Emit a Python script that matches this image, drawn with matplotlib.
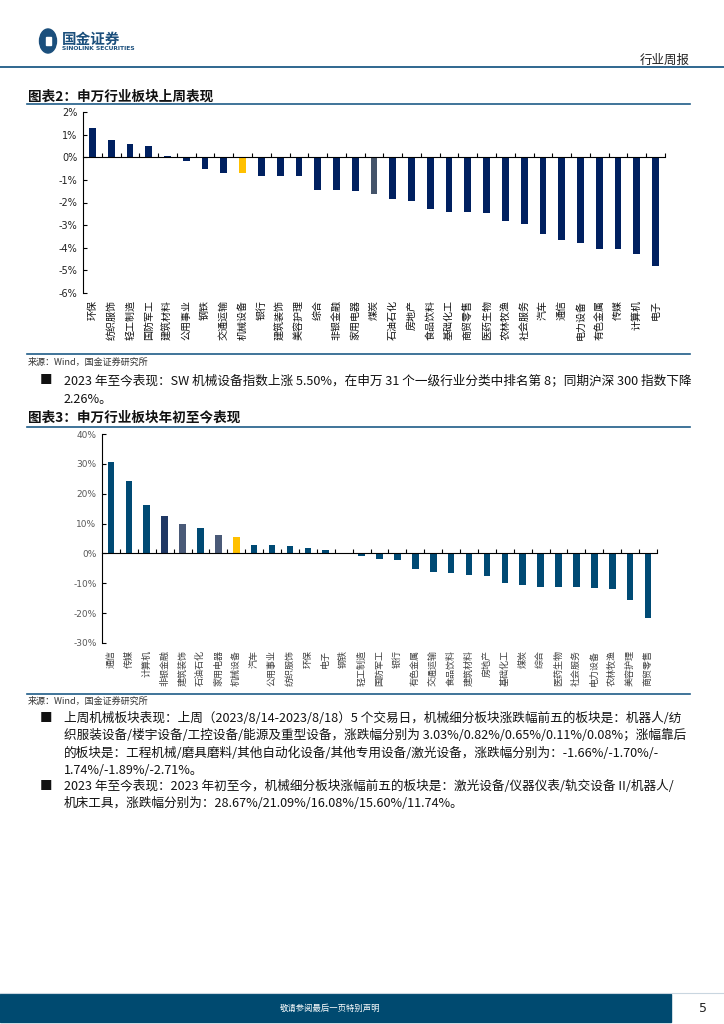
import matplotlib
matplotlib.use("Agg")
import matplotlib.pyplot as plt
from matplotlib.lines import Line2D
from matplotlib.patches import Rectangle, Circle
import matplotlib.transforms as mtransforms

plt.rcParams['font.family'] = ['Noto Sans CJK SC', 'DejaVu Sans']

W, H = 724, 1024

# 图表2: 申万行业板块上周表现 (%)
week_names = ["环保", "纺织服饰", "轻工制造", "国防军工", "建筑材料", "公用事业", "钢铁",
              "交通运输", "机械设备", "银行", "建筑装饰", "美容护理", "综合", "非银金融",
              "家用电器", "煤炭", "石油石化", "房地产", "食品饮料", "基础化工", "商贸零售",
              "医药生物", "农林牧渔", "社会服务", "汽车", "通信", "电力设备", "有色金属",
              "传媒", "计算机", "电子"]
week_vals = [1.30, 0.75, 0.59, 0.50, 0.06, -0.15, -0.52, -0.71, -0.71, -0.83, -0.83,
             -0.83, -1.45, -1.45, -1.49, -1.64, -1.85, -1.92, -2.29, -2.41, -2.41,
             -2.47, -2.81, -2.94, -3.39, -3.67, -3.79, -4.07, -4.07, -4.28, -4.79]
week_ticks = [2, 1, 0, -1, -2, -3, -4, -5, -6]

# 图表3: 申万行业板块年初至今表现 (%)
ytd_names = ["通信", "传媒", "计算机", "非银金融", "建筑装饰", "石油石化", "家用电器",
             "机械设备", "汽车", "公用事业", "纺织服饰", "环保", "电子", "钢铁", "轻工制造",
             "国防军工", "银行", "有色金属", "交通运输", "食品饮料", "建筑材料", "房地产",
             "基础化工", "煤炭", "综合", "医药生物", "社会服务", "电力设备", "农林牧渔",
             "美容护理", "商贸零售"]
ytd_vals = [30.7, 24.3, 16.1, 12.4, 9.9, 8.4, 6.25, 5.5, 2.9, 2.9, 2.6, 1.7, 1.3, -0.3,
            -0.8, -1.7, -2.3, -5.1, -6.25, -6.6, -7.1, -7.5, -9.9, -10.5, -11.2, -11.2,
            -11.2, -11.5, -11.8, -15.7, -21.5]
ytd_ticks = [40, 30, 20, 10, 0, -10, -20, -30]

fig = plt.figure(figsize=(W / 100, H / 100), dpi=100)


def fx(x):
    return x / W


def fy(y):
    return 1 - y / H


def hline(y, x0, x1, color="#1F5C87", lw=1.2):
    fig.add_artist(Line2D([fx(x0), fx(x1)], [fy(y), fy(y)], color=color, lw=lw))


def bar_chart(rect, names, vals, ticks, colors, tick_color, tick_fs, lab_fs, lab_color, width):
    l, t, r, b = rect
    ax = fig.add_axes([fx(l), fy(b), fx(r - l), (b - t) / H])
    x = list(range(len(vals)))
    ax.bar(x, vals, width=width, color=colors, zorder=2)
    ax.set_xlim(-0.5, len(vals) - 0.5)
    ax.set_ylim(ticks[-1], ticks[0])
    ax.set_yticks(ticks)
    ax.set_yticklabels([f"{v}%" for v in ticks], fontsize=tick_fs, color=tick_color,
                       family="DejaVu Sans")
    ax.tick_params(axis="y", direction="in", length=3, width=0.8, pad=4)
    for s in ["top", "right"]:
        ax.spines[s].set_visible(False)
    ax.spines["left"].set_linewidth(0.8)
    ax.spines["bottom"].set_position(("data", 0))
    ax.spines["bottom"].set_linewidth(0.8)
    ax.set_xticks(x)
    ax.tick_params(axis="x", which="major", length=0, labelbottom=False)
    ax.set_xticks([i + 0.5 for i in x], minor=True)
    ax.tick_params(axis="x", which="minor", direction="in", length=3, width=0.8)
    trans = mtransforms.blended_transform_factory(ax.transData, ax.transAxes)
    off = 7 / (b - t)
    for i, n in zip(x, names):
        ax.text(i, -off, n, rotation=90, ha="center", va="top", fontsize=lab_fs,
                color=lab_color, transform=trans)
    ax.patch.set_alpha(0)
    return ax


# header
fig.add_artist(Circle((fx(48), fy(41)), 8.5 / W, transform=fig.transFigure,
                      color="#1B4F7C"))
fig.add_artist(Rectangle((fx(46), fy(45)), 5 / W, 8 / H, transform=fig.transFigure,
                         color="white"))
fig.text(fx(62), fy(39), "国金证券", fontsize=10.5, fontweight="bold", color="#1B4F7C",
         va="center", ha="left")
fig.text(fx(62), fy(49), "SINOLINK SECURITIES", fontsize=4.3, fontweight="bold",
         color="#1B4F7C", va="center", ha="left", family="DejaVu Sans")
fig.text(fx(690), fy(60), "行业周报", fontsize=9, color="#222222", va="center", ha="right")
hline(67, 0, 724, lw=1.3)

body_fs = 9.1

# chart 2
fig.text(fx(28), fy(97), "图表2：申万行业板块上周表现", fontsize=9.8, fontweight="bold",
         fontstyle="italic", color="#111111", va="center", ha="left")
hline(104, 27, 690)
c1 = ["#002060"] * len(week_vals)
c1[week_names.index("机械设备")] = "#FFC000"
c1[week_names.index("煤炭")] = "#44546A"
bar_chart((83, 112, 665, 293), week_names, week_vals, week_ticks, c1, "#222222", 7, 7.2,
          "#111111", 0.36)
hline(354, 27, 690)
fig.text(fx(28), fy(362), "来源：Wind，国金证券研究所", fontsize=6.5, color="#333333",
         va="center", ha="left")

# bullet text 1
fig.text(fx(40), fy(381), "■", fontsize=9, color="#111111", va="center", ha="left")
fig.text(fx(64), fy(381),
         "2023 年至今表现：SW 机械设备指数上涨 5.50%，在申万 31 个一级行业分类中排名第 8；同期沪深 300 指数下降",
         fontsize=body_fs, color="#111111", va="center", ha="left")
fig.text(fx(64), fy(400), "2.26%。", fontsize=body_fs, color="#111111", va="center",
         ha="left")

# chart 3
fig.text(fx(28), fy(418), "图表3：申万行业板块年初至今表现", fontsize=9.8, fontweight="bold",
         fontstyle="italic", color="#111111", va="center", ha="left")
hline(427, 27, 690)
c2 = ["#004A74"] * len(ytd_vals)
c2[ytd_names.index("机械设备")] = "#FFC000"
c2[ytd_names.index("非银金融")] = "#1F3864"
c2[ytd_names.index("建筑装饰")] = "#4A5A78"
c2[ytd_names.index("家用电器")] = "#4A5A78"
bar_chart((102, 434, 657, 643), ytd_names, ytd_vals, ytd_ticks, c2, "#595959", 6.5, 6.5,
          "#404040", 0.37)
hline(694, 27, 690)
fig.text(fx(28), fy(701), "来源：Wind，国金证券研究所", fontsize=6.5, color="#333333",
         va="center", ha="left")

# bullet text 2 and 3
para2 = ["上周机械板块表现：上周（2023/8/14-2023/8/18）5 个交易日，机械细分板块涨跌幅前五的板块是：机器人/纺",
         "织服装设备/楼宇设备/工控设备/能源及重型设备，涨跌幅分别为 3.03%/0.82%/0.65%/0.11%/0.08%；涨幅靠后",
         "的板块是：工程机械/磨具磨料/其他自动化设备/其他专用设备/激光设备，涨跌幅分别为：-1.66%/-1.70%/-",
         "1.74%/-1.89%/-2.71%。"]
para3 = ["2023 年至今表现：2023 年初至今，机械细分板块涨幅前五的板块是：激光设备/仪器仪表/轨交设备 II/机器人/",
         "机床工具，涨跌幅分别为：28.67%/21.09%/16.08%/15.60%/11.74%。"]
y0 = 718
fig.text(fx(40), fy(y0), "■", fontsize=9, color="#111111", va="center", ha="left")
for k, line in enumerate(para2):
    fig.text(fx(64), fy(y0 + 17.5 * k), line, fontsize=body_fs, color="#111111",
             va="center", ha="left")
y1 = 786
fig.text(fx(40), fy(y1), "■", fontsize=9, color="#111111", va="center", ha="left")
for k, line in enumerate(para3):
    fig.text(fx(64), fy(y1 + 17.5 * k), line, fontsize=body_fs, color="#111111",
             va="center", ha="left")

# footer
fig.add_artist(Rectangle((0, fy(1022)), fx(671), 28 / H, transform=fig.transFigure,
                         color="#004A70"))
hline(993, 0, 724, color="#C9D6E0", lw=0.8)
fig.text(fx(330), fy(1008), "敬请参阅最后一页特别声明", fontsize=6, color="white",
         va="center", ha="center")
fig.text(fx(703), fy(1008), "5", fontsize=9, color="#222222", va="center", ha="center",
         family="DejaVu Sans")

fig.savefig("out.png", dpi=100, facecolor="white")
